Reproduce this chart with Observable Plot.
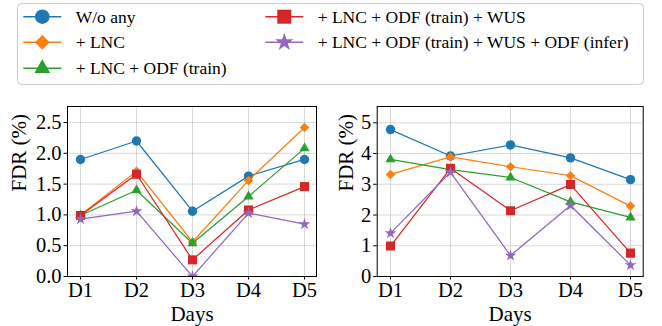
<!DOCTYPE html>
<html><head><meta charset="utf-8">
<script src="https://cdn.jsdelivr.net/npm/d3@7"></script>
<script src="https://cdn.jsdelivr.net/npm/@observablehq/plot@0.6"></script>
<style>
body{margin:0;background:#fff;}
#root{position:relative;width:662px;height:326px;font-family:"Liberation Serif","Times New Roman",serif;color:#000;}
#root > *{position:absolute;}
</style></head><body><div id="root"></div>
<script>
// ---- data ----
const days = ["D1", "D2", "D3", "D4", "D5"];
const seriesNames = ["W/o any", "+ LNC", "+ LNC + ODF (train)", "+ LNC + ODF (train) + WUS", "+ LNC + ODF (train) + WUS + ODF (infer)"];
const leftValues = [
  [1.90, 2.20, 1.06, 1.63, 1.90],
  [1.00, 1.71, 0.56, 1.56, 2.42],
  [0.99, 1.40, 0.54, 1.30, 2.08],
  [0.99, 1.66, 0.27, 1.08, 1.46],
  [0.93, 1.06, 0.00, 1.03, 0.85]
];
const rightValues = [
  [4.78, 3.92, 4.28, 3.86, 3.15],
  [3.32, 3.89, 3.57, 3.28, 2.29],
  [3.81, 3.48, 3.22, 2.43, 1.92],
  [0.99, 3.52, 2.14, 2.99, 0.76],
  [1.41, 3.39, 0.68, 2.31, 0.37]
];
const leftTicks = [0, 0.5, 1.0, 1.5, 2.0, 2.5];
const rightTicks = [0, 1, 2, 3, 4, 5];
const yLabel = "FDR (%)";
const xLabel = "Days";

// ---- styles ----
const colors = ["#1f77b4", "#ff7f0e", "#2ca02c", "#d62728", "#9467bd"];
const symbols = ["circle", "diamond2", "triangle", "square", "star"];
const markerR = [4.7, 4.3, 3.8, 5.1, 3.7];
const FONT = '"Liberation Serif","Times New Roman",serif';

function panel(values, ticks, yMax, fmt, opts) {
  const rows = [];
  values.forEach((vals, s) => vals.forEach((v, i) => rows.push({s, series: seriesNames[s], day: days[i], value: v})));
  const marks = [
    Plot.gridX(days, {stroke: "#b0b0b0", strokeOpacity: 0.55, strokeWidth: 0.9}),
    Plot.gridY(ticks, {stroke: "#b0b0b0", strokeOpacity: 0.55, strokeWidth: 0.9}),
    Plot.axisX({ticks: days, tickSize: 3.5, tickPadding: 2, fontSize: 20.5, label: null}),
    Plot.axisY({ticks, tickSize: 3.5, tickPadding: 2.5, tickFormat: fmt, fontSize: 20.5, label: null}),
    Plot.text([yLabel], {frameAnchor: "left", lineAnchor: "middle", dx: opts.ylabDx, rotate: -90, fontSize: 21}),
    Plot.text([xLabel], {frameAnchor: "bottom", lineAnchor: "middle", dy: 38, fontSize: 21})
  ];
  seriesNames.forEach((name, s) => {
    marks.push(Plot.line(rows, {filter: d => d.s === s, x: "day", y: "value", stroke: colors[s], strokeWidth: 1.25, clip: "frame"}));
    marks.push(Plot.dot(rows, {filter: d => d.s === s, x: "day", y: "value", fill: colors[s], stroke: "none", symbol: symbols[s], r: markerR[s], clip: "frame"}));
  });
  marks.push(Plot.frame({stroke: "#000", strokeWidth: 1}));
  return Plot.plot({
    width: opts.width, height: 236,
    marginLeft: opts.ml, marginRight: opts.mr, marginTop: 16, marginBottom: 50,
    style: {fontFamily: FONT, background: "transparent", overflow: "visible", color: "#000"},
    x: {type: "point", domain: days, padding: 0.2},
    y: {domain: [0, yMax]},
    marks
  });
}

const root = document.getElementById("root");

// legend
const legend = d3.create("svg").attr("width", 662).attr("height", 90).style("left", "0px").style("top", "0px");
legend.append("rect").attr("x", 17.5).attr("y", 3.5).attr("width", 626).attr("height", 81)
  .attr("rx", 4).attr("fill", "#fff").attr("stroke", "#cccccc").attr("stroke-width", 1);
const symType = {circle: d3.symbolCircle, diamond2: d3.symbolDiamond2, triangle: d3.symbolTriangle, square: d3.symbolSquare, star: d3.symbolStar};
const colX = [42.3, 284.3];
const rowY = [16.7, 42.3, 68.3];
seriesNames.forEach((name, s) => {
  const c = s < 3 ? 0 : 1, r = s < 3 ? s : s - 3;
  const cx = colX[c], cy = rowY[r];
  const g = legend.append("g");
  g.append("line").attr("x1", cx - 19).attr("x2", cx + 19).attr("y1", cy).attr("y2", cy)
    .attr("stroke", colors[s]).attr("stroke-width", 1.5);
  const rr = markerR[s] * 1.55;
  g.append("path").attr("transform", `translate(${cx},${cy})`)
    .attr("d", d3.symbol(symType[symbols[s]], Math.PI * rr * rr)()).attr("fill", colors[s]);
  g.append("text").attr("x", cx + 33.4).attr("y", cy).attr("dy", "0.35em")
    .style("font-family", FONT).attr("font-size", 17.5).attr("fill", "#000").text(name);
});
root.appendChild(legend.node());

const left = panel(leftValues, leftTicks, 2.76, d3.format(".1f"), {width: 330, ml: 67, mr: 14, ylabDx: -48});
left.style.left = "0px"; left.style.top = "90px";
root.appendChild(left);

const right = panel(rightValues, rightTicks, 5.53, d3.format("d"), {width: 332, ml: 46.7, mr: 19.3, ylabDx: -31});
right.style.left = "330px"; right.style.top = "90px";
root.appendChild(right);
</script>
</body></html>
